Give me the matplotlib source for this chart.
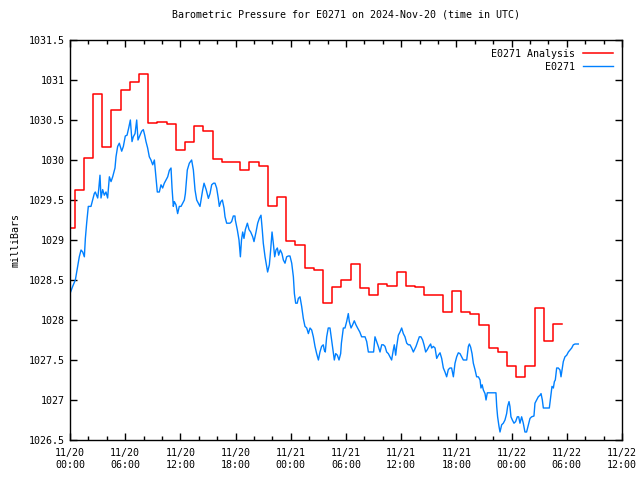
import numpy as np
import matplotlib
matplotlib.use("Agg")
import matplotlib.pyplot as plt
from matplotlib.ticker import MultipleLocator, FuncFormatter
from datetime import datetime, timedelta

plt.rcParams['font.family'] = 'DejaVu Sans Mono'
plt.rcParams['font.size'] = 7.2

START = datetime(2024, 11, 20, 0, 0)

# hourly analysis values (hours since 11/20 00:00)
analysis_vals = [
    1029.15, 1029.63, 1030.02, 1030.82, 1030.16, 1030.625, 1030.875, 1030.97,
    1031.08, 1030.46, 1030.48, 1030.45, 1030.125, 1030.23, 1030.425, 1030.36,
    1030.01, 1029.975, 1029.975, 1029.875, 1029.975, 1029.93, 1029.425, 1029.54,
    1028.99, 1028.94, 1028.65, 1028.625, 1028.21, 1028.41, 1028.5, 1028.7,
    1028.4, 1028.31, 1028.45, 1028.425, 1028.6, 1028.425, 1028.41, 1028.31,
    1028.31, 1028.1, 1028.36, 1028.1, 1028.08, 1027.94, 1027.65, 1027.6,
    1027.42, 1027.29, 1027.42, 1028.15, 1027.74, 1027.95,
]

# observations
obs_hours = [
    0.0, 0.29, 0.58, 0.83, 1.01, 1.2, 1.38, 1.56, 1.67, 1.81, 1.99, 2.28, 2.46,
    2.64, 2.75, 3.01, 3.12, 3.26, 3.37, 3.55, 3.73, 3.91, 4.09, 4.28, 4.46, 4.64,
    4.89, 5.0, 5.18, 5.36, 5.62, 5.8, 6.01, 6.2, 6.38, 6.56, 6.74, 6.88, 7.07,
    7.25, 7.39, 7.61, 7.79, 7.97, 8.12, 8.26, 8.44, 8.62, 8.8, 8.99, 9.17, 9.35,
    9.49, 9.71, 9.89, 10.07, 10.25, 10.43, 10.62, 10.8, 10.98, 11.09, 11.23,
    11.34, 11.52, 11.7, 11.88, 12.07, 12.25, 12.43, 12.54, 12.75, 12.97, 13.22,
    13.41, 13.59, 13.77, 14.13, 14.42, 14.57, 14.8, 15.04, 15.22, 15.4, 15.6,
    15.76, 15.94, 16.12, 16.23, 16.4, 16.56, 16.74, 16.85, 17.03, 17.39, 17.57,
    17.75, 17.93, 17.97, 18.19, 18.37, 18.52, 18.64, 18.77, 18.91, 19.06, 19.28,
    19.46, 19.64, 19.86, 20.0, 20.22, 20.4, 20.58, 20.76, 20.9, 21.01, 21.2,
    21.38, 21.48, 21.67, 21.81, 21.96, 22.1, 22.25, 22.39, 22.54, 22.68, 22.86,
    23.04, 23.19, 23.37, 23.55, 23.73, 23.91, 24.1, 24.28, 24.39, 24.53, 24.7,
    24.82, 25.0, 25.18, 25.36, 25.54, 25.73, 25.91, 26.09, 26.27, 26.45, 26.63,
    26.81, 27.0, 27.17, 27.35, 27.53, 27.64, 27.75, 27.9, 28.07, 28.26, 28.44,
    28.62, 28.73, 28.88, 29.06, 29.24, 29.42, 29.5, 29.71, 29.89, 30.07, 30.25,
    30.36, 30.55, 30.72, 30.9, 31.08, 31.26, 31.5, 31.7, 32.07, 32.25, 32.43,
    32.61, 33.0, 33.15, 33.33, 33.51, 33.7, 33.88, 34.06, 34.24, 34.42, 34.6,
    34.78, 34.96, 35.14, 35.25, 35.4, 35.51, 35.69, 35.87, 36.05, 36.23, 36.41,
    36.6, 36.78, 36.96, 37.14, 37.32, 37.61, 37.79, 37.97, 38.15, 38.33, 38.48,
    38.66, 38.84, 39.02, 39.2, 39.31, 39.49, 39.68, 39.86, 40.04, 40.22, 40.4,
    40.58, 40.76, 40.94, 41.12, 41.3, 41.48, 41.67, 41.85, 42.03, 42.21, 42.39,
    42.57, 42.75, 43.12, 43.3, 43.41, 43.55, 43.7, 43.84, 44.02, 44.2, 44.39,
    44.57, 44.67, 44.8, 44.93, 45.11, 45.22, 45.36, 46.3, 46.38, 46.48, 46.63,
    46.74, 46.92, 47.1, 47.28, 47.46, 47.57, 47.72, 47.82, 47.93, 48.08, 48.26,
    48.44, 48.62, 48.77, 48.91, 49.09, 49.27, 49.45, 49.63, 49.82, 50.0, 50.18,
    50.43, 50.54, 50.72, 50.9, 51.09, 51.2, 51.34, 51.45, 51.8, 52.1, 52.25,
    52.39, 52.54, 52.65, 52.75, 52.9, 53.08, 53.26, 53.37, 53.51, 53.62, 53.8,
    53.99, 54.17, 54.35, 54.53, 54.71, 54.89, 55.25,
]
obs_vals = [
    1028.33, 1028.42, 1028.5, 1028.67, 1028.79, 1028.875, 1028.85, 1028.79,
    1029.02, 1029.21, 1029.42, 1029.42, 1029.5, 1029.58, 1029.6, 1029.525,
    1029.63, 1029.81, 1029.525, 1029.63, 1029.56, 1029.6, 1029.525, 1029.79,
    1029.73, 1029.79, 1029.9, 1030.04, 1030.17, 1030.21, 1030.11, 1030.17,
    1030.3, 1030.31, 1030.4, 1030.5, 1030.23, 1030.29, 1030.33, 1030.5, 1030.25,
    1030.31, 1030.36, 1030.38, 1030.31, 1030.23, 1030.15, 1030.04, 1030.0,
    1029.94, 1030.0, 1029.77, 1029.6, 1029.6, 1029.69, 1029.65, 1029.71,
    1029.75, 1029.79, 1029.87, 1029.9, 1029.65, 1029.42, 1029.48, 1029.44,
    1029.33, 1029.42, 1029.42, 1029.46, 1029.5, 1029.58, 1029.875, 1029.96,
    1030.0, 1029.875, 1029.625, 1029.5, 1029.42, 1029.625, 1029.71, 1029.63,
    1029.52, 1029.58, 1029.69, 1029.71, 1029.71, 1029.65, 1029.52, 1029.42,
    1029.48, 1029.5, 1029.4, 1029.29, 1029.21, 1029.21, 1029.23, 1029.3, 1029.3,
    1029.25, 1029.125, 1029.0, 1028.79, 1029.0, 1029.1, 1029.02, 1029.13,
    1029.21, 1029.13, 1029.1, 1029.04, 1028.98, 1029.1, 1029.21, 1029.27,
    1029.31, 1029.125, 1028.96, 1028.79, 1028.67, 1028.6, 1028.69, 1028.875,
    1029.1, 1028.96, 1028.79, 1028.875, 1028.9, 1028.81, 1028.875, 1028.83,
    1028.75, 1028.71, 1028.79, 1028.8, 1028.8, 1028.71, 1028.54, 1028.33,
    1028.21, 1028.21, 1028.27, 1028.29, 1028.17, 1028.02, 1027.92, 1027.9,
    1027.83, 1027.9, 1027.875, 1027.79, 1027.67, 1027.58, 1027.5, 1027.6,
    1027.67, 1027.69, 1027.625, 1027.6, 1027.79, 1027.9, 1027.9, 1027.75,
    1027.6, 1027.5, 1027.58, 1027.56, 1027.5, 1027.58, 1027.71, 1027.9, 1027.9,
    1027.98, 1028.08, 1027.98, 1027.9, 1027.94, 1027.99, 1027.94, 1027.9,
    1027.85, 1027.79, 1027.79, 1027.73, 1027.6, 1027.6, 1027.6, 1027.79,
    1027.73, 1027.67, 1027.6, 1027.69, 1027.69, 1027.67, 1027.6, 1027.58,
    1027.54, 1027.5, 1027.625, 1027.69, 1027.56, 1027.67, 1027.81, 1027.85,
    1027.9, 1027.83, 1027.79, 1027.71, 1027.69, 1027.69, 1027.65, 1027.6,
    1027.67, 1027.73, 1027.79, 1027.79, 1027.75, 1027.69, 1027.6, 1027.63,
    1027.67, 1027.7, 1027.65, 1027.67, 1027.65, 1027.52, 1027.56, 1027.59,
    1027.52, 1027.4, 1027.35, 1027.29, 1027.38, 1027.4, 1027.4, 1027.29,
    1027.46, 1027.54, 1027.59, 1027.58, 1027.54, 1027.5, 1027.5, 1027.67,
    1027.7, 1027.66, 1027.58, 1027.46, 1027.38, 1027.29, 1027.29, 1027.25,
    1027.15, 1027.19, 1027.125, 1027.08, 1027.0, 1027.09, 1027.09, 1026.92,
    1026.79, 1026.67, 1026.6, 1026.69, 1026.71, 1026.75, 1026.83, 1026.92,
    1026.98, 1026.92, 1026.79, 1026.75, 1026.71, 1026.73, 1026.79, 1026.79,
    1026.71, 1026.79, 1026.71, 1026.6, 1026.6, 1026.69, 1026.77, 1026.79,
    1026.8, 1026.96, 1027.0, 1027.04, 1027.06, 1027.08, 1027.0, 1026.9, 1026.9,
    1026.9, 1027.04, 1027.17, 1027.15, 1027.23, 1027.25, 1027.4, 1027.4,
    1027.375, 1027.29, 1027.4, 1027.48, 1027.54, 1027.56, 1027.6, 1027.625,
    1027.65, 1027.69, 1027.7, 1027.7,
]

fig = plt.figure(figsize=(6.4, 4.8), dpi=100)
ax = fig.add_axes([70 / 640, 40 / 480, 552 / 640, 400 / 480])

# analysis drawn as hourly steps centred on the hour
n = len(analysis_vals)
edges = np.r_[0.0, np.arange(n) + 0.5]
step_vals = np.r_[analysis_vals, analysis_vals[-1]]
ax.step(edges, step_vals, where='post', color='#ff0000', lw=1.1,
        label='E0271 Analysis', snap=True)
ax.plot(obs_hours, obs_vals, color='#0080ff', lw=1.0, label='E0271')

ax.set_xlim(0, 60)
ax.set_ylim(1026.5, 1031.5)
ax.xaxis.set_major_locator(MultipleLocator(6))
ax.xaxis.set_minor_locator(MultipleLocator(2))
ax.yaxis.set_major_locator(MultipleLocator(0.5))


def fmt_time(h, pos):
    t = START + timedelta(hours=h)
    return t.strftime('%m/%d\n%H:%M')


ax.xaxis.set_major_formatter(FuncFormatter(fmt_time))
ax.yaxis.set_major_formatter(FuncFormatter(lambda v, p: '%g' % v))
ax.tick_params(which='both', direction='in', top=True, right=True,
               width=1, colors='black', labelsize=7.2)
ax.tick_params(which='major', length=5, pad=6)
ax.tick_params(which='minor', length=3)
ax.tick_params(axis='y', pad=4)
for s in ax.spines.values():
    s.set_linewidth(1.0)

ax.set_title('Barometric Pressure for E0271 on 2024-Nov-20 (time in UTC)',
             fontsize=7.2, pad=16)
ax.set_ylabel('milliBars', fontsize=7.2, labelpad=6)

leg = ax.legend(loc='upper right', frameon=False, markerfirst=False,
                handlelength=3.0, handletextpad=0.8, labelspacing=0.3,
                borderaxespad=0.5, fontsize=7.2)

fig.savefig('out.png', dpi=100)
